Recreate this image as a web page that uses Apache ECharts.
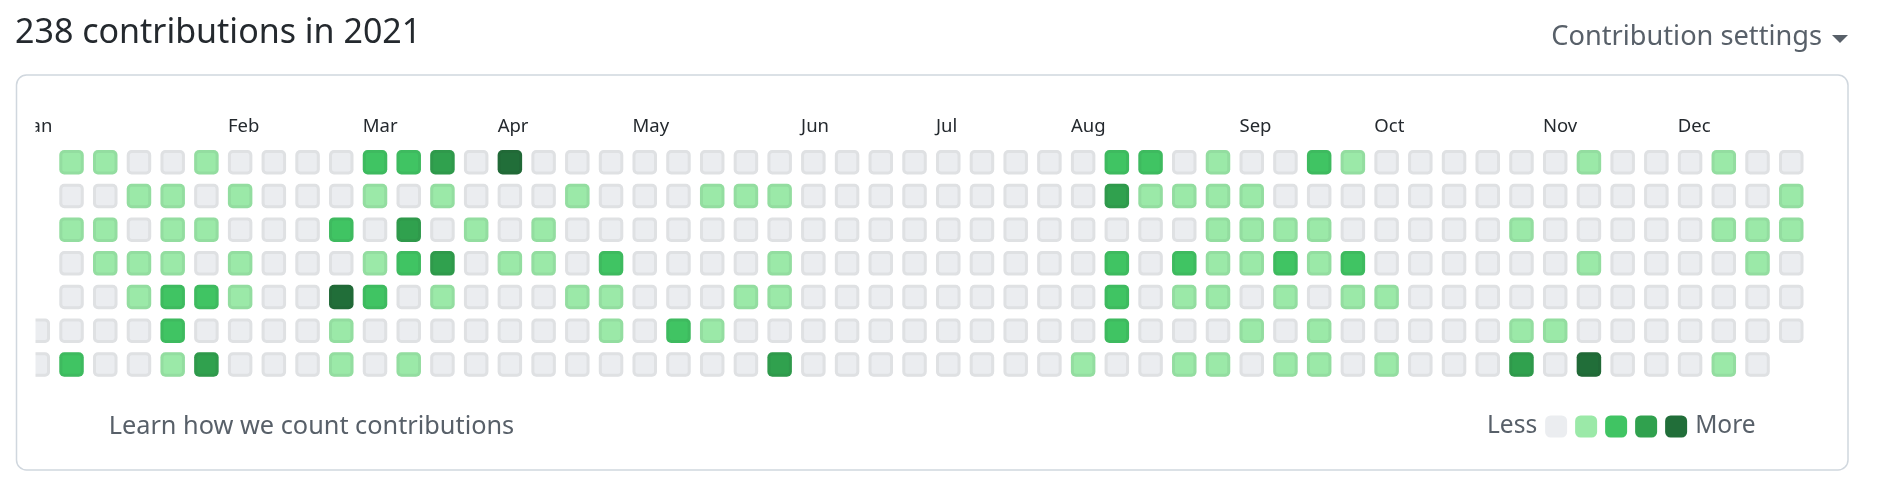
<!DOCTYPE html>
<html>
<head>
<meta charset="utf-8">
<script src="https://cdn.jsdelivr.net/npm/echarts@6/dist/echarts.min.js"></script>
<style>
html,body{margin:0;padding:0;background:#ffffff;}
#chart{width:1881px;height:501px;}
</style>
</head>
<body>
<div id="chart"></div>
<script>
// ---- data (contribution level 0..4 per week column, one array per weekday; null = outside 2021)
const weekdays = ['Sun', 'Mon', 'Tue', 'Wed', 'Thu', 'Fri', 'Sat'];
const sun = [null,1,1,0,0,1,0,0,0,0,2,2,3,0,4, 0,0,0,0,0,0,0,0,0,0,0,0,0,0,0,0,0, 2,2,0,1,0,0,2,1, 0,0,0,0,0,0, 1, 0,0,0, 1,0,0];
const mon = [null,0,0,1,1,0,1,0,0,0,1,0,1,0,0,0,1,0,0,0,1,1,1, 0,0,0,0,0,0,0,0,0, 3,1,1,1,1, 0,0,0,0,0,0,0,0,0,0,0,0,0,0,0, 1];
const tue = [null,1,1,0,1,1,0,0,0,2,0,3,0,1,0,1, 0,0,0,0,0,0,0,0,0,0,0,0,0,0,0,0,0,0,0, 1,1,1,1, 0,0,0,0,0, 1, 0,0,0,0,0, 1,1,1];
const wed = [null,0,1,1,1,0,1,0,0,0,1,2,3,0,1,1,0,2,0,0,0,0,1, 0,0,0,0,0,0,0,0,0, 2,0,2,1,1,2,1,2, 0,0,0,0,0,0, 1, 0,0,0,0, 1,0];
const thu = [null,0,0,1,2,2,1,0,0,4,2,0,1,0,0,0,1,1,0,0,0,1,1, 0,0,0,0,0,0,0,0,0, 2,0,1,1,0,1,0,1,1, 0,0,0,0,0,0,0,0,0,0,0,0];
const fri = [0,0,0,0,2,0,0,0,0,1, 0,0,0,0,0,0,0, 1,0,2,1, 0,0,0,0,0,0,0,0,0,0,0, 2,0,0,0,1,0,1, 0,0,0,0,0, 1,1, 0,0,0,0,0,0,0];
const sat = [0,2,0,0,1,3,0,0,0,1,0,1, 0,0,0,0,0,0,0,0,0,0, 3, 0,0,0,0,0,0,0,0, 1,0,0,1,1,0,1,1,0,1, 0,0,0, 3,0,4, 0,0,0, 1,0,null];
const monthNames = ['Jan', 'Feb', 'Mar', 'Apr', 'May', 'Jun', 'Jul', 'Aug', 'Sep', 'Oct', 'Nov', 'Dec'];
const monthStartWeeks = [0, 6, 10, 14, 18, 23, 27, 31, 36, 40, 45, 49];
const levelColors = ['#ebedf0', '#9be9a8', '#40c463', '#30a14e', '#216e39'];
const titleText = '238 contributions in 2021';
const settingsText = 'Contribution settings';
const learnText = 'Learn how we count contributions';
const legendTexts = ['More', 'Less'];

// ---- build series data
const rows = [sun, mon, tue, wed, thu, fri, sat];
const cells = [];
rows.forEach(function (arr, r) {
  arr.forEach(function (lvl, c) {
    if (lvl !== null) cells.push([c, r, lvl]);
  });
});
const nWeeks = sun.length;

const FONT = "'Segoe UI','Noto Sans',sans-serif";
const CELL_FRAC = 0.726;
const labelPositions = monthStartWeeks.map(function (w) { return w - CELL_FRAC / 2; });

function monthLabel(v) {
  let best = 0, bd = 1e9;
  labelPositions.forEach(function (p, i) {
    const d = Math.abs(p - v);
    if (d < bd) { bd = d; best = i; }
  });
  return monthNames[best];
}

function renderItem(params, api) {
  const p = api.coord([api.value(0), api.value(1)]);
  const s = api.size([1, 1]);
  const w = s[0] * CELL_FRAC;
  const h = s[1] * CELL_FRAC;
  const x = p[0] - w / 2;
  const y = p[1] - h / 2;
  return {
    type: 'group',
    children: [
      { type: 'rect', shape: { x: x, y: y, width: w, height: h, r: 5 },
        style: { fill: api.visual('color') } },
      { type: 'rect', shape: { x: x + 1.5, y: y + 1.5, width: w - 3, height: h - 3, r: 3.5 },
        style: { fill: null, stroke: 'rgba(27,31,35,0.06)', lineWidth: 3 } }
    ]
  };
}

const chart = echarts.init(document.getElementById('chart'), null, { renderer: 'canvas' });
chart.setOption({
  backgroundColor: '#ffffff',
  animation: false,
  grid: { left: 20.94, top: 145.34, width: 1787.16, height: 236.04, containLabel: false },
  xAxis: {
    type: 'value', position: 'top', min: -0.5, max: nWeeks - 0.5,
    axisLine: { show: false }, axisTick: { show: false }, splitLine: { show: false },
    axisLabel: {
      customValues: labelPositions,
      formatter: monthLabel,
      align: 'left', margin: 9,
      color: '#24292e', fontSize: 18.5, fontFamily: FONT
    }
  },
  yAxis: {
    type: 'value', min: -0.5, max: weekdays.length - 0.5, inverse: true, show: false
  },
  visualMap: {
    type: 'piecewise', seriesIndex: 0, dimension: 2,
    orient: 'horizontal', left: 1487, top: 414, padding: 0,
    itemWidth: 22, itemHeight: 22, itemGap: 8, textGap: 9,
    itemSymbol: 'roundRect', selectedMode: false, hoverLink: false,
    text: legendTexts,
    textStyle: { color: '#586069', fontSize: 24.5, fontFamily: FONT },
    pieces: levelColors.map(function (c, i) { return { value: i, color: c }; })
  },
  series: [{
    type: 'custom',
    renderItem: renderItem,
    encode: { x: 0, y: 1 },
    data: cells
  }],
  graphic: [
    { type: 'rect', z: 100, shape: { x: 18, y: 95, width: 17.5, height: 290 }, style: { fill: '#ffffff' } },
    { type: 'rect', z: 101, shape: { x: 16.5, y: 75, width: 1831.5, height: 395, r: 10 },
      style: { fill: null, stroke: '#d0d7de', lineWidth: 1.5 } },
    { type: 'text', z: 101, x: 15, y: 33,
      style: { text: titleText, fill: '#24292e', font: 'normal 34px ' + FONT, textVerticalAlign: 'middle' } },
    { type: 'text', z: 101, x: 1822, y: 37,
      style: { text: settingsText, fill: '#586069', font: 'normal 27.2px ' + FONT, textAlign: 'right', textVerticalAlign: 'middle' } },
    { type: 'polygon', z: 101, shape: { points: [[1832, 35], [1848, 35], [1840, 43]] }, style: { fill: '#586069' } },
    { type: 'text', z: 101, x: 108.7, y: 427,
      style: { text: learnText, fill: '#586069', font: 'normal 25.3px ' + FONT, textVerticalAlign: 'middle' } }
  ]
});
</script>
</body>
</html>
